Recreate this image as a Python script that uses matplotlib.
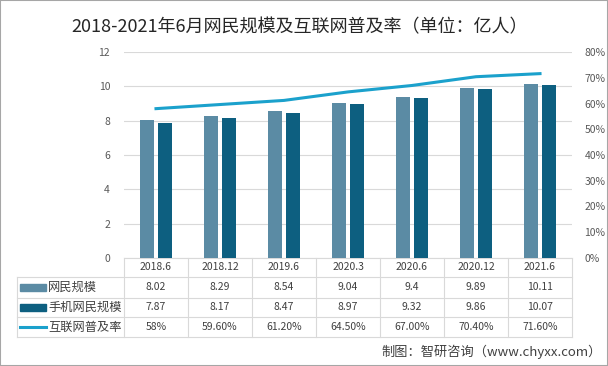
import matplotlib.pyplot as plt
import numpy as np
from matplotlib.patches import Rectangle
from matplotlib.lines import Line2D

plt.rcParams['font.family'] = ['Noto Sans CJK SC', 'DejaVu Sans']

categories = ['2018.6', '2018.12', '2019.6', '2020.3', '2020.6', '2020.12', '2021.6']
netizens = [8.02, 8.29, 8.54, 9.04, 9.4, 9.89, 10.11]
mobile = [7.87, 8.17, 8.47, 8.97, 9.32, 9.86, 10.07]
rate = [58.0, 59.6, 61.2, 64.5, 67.0, 70.4, 71.6]
netizens_text = ['8.02', '8.29', '8.54', '9.04', '9.4', '9.89', '10.11']
mobile_text = ['7.87', '8.17', '8.47', '8.97', '9.32', '9.86', '10.07']
rate_text = ['58%', '59.60%', '61.20%', '64.50%', '67.00%', '70.40%', '71.60%']
series_names = ['网民规模', '手机网民规模', '互联网普及率']

c_net = '#5b8ba4'
c_mob = '#0d5f80'
c_rate = '#1ba1cc'
c_grid = '#d9d9d9'
c_text = '#404040'

W, H = 608, 366
fig = plt.figure(figsize=(W / 100, H / 100), dpi=100)
ax = fig.add_axes([124 / W, 1 - 258 / H, 448 / W, 206 / H])

x = np.arange(len(categories))
ax.bar(x - 0.14, netizens, 0.22, color=c_net, zorder=3)
ax.bar(x + 0.14, mobile, 0.22, color=c_mob, zorder=3)
ax.set_xlim(-0.5, len(categories) - 0.5)
ax.set_ylim(0, 12)
ax.set_yticks(range(0, 13, 2))
ax.grid(axis='y', color=c_grid, lw=0.8)
ax.set_axisbelow(True)
for s in ['top', 'right', 'left']:
    ax.spines[s].set_visible(False)
ax.spines['bottom'].set_color(c_grid)
ax.set_xticks([])
ax.tick_params(axis='y', length=0, pad=10, labelsize=7.5, labelcolor='#595959')

ax2 = ax.twinx()
ax2.plot(x, rate, color=c_rate, lw=2.2)
ax2.set_ylim(0, 80)
ax2.set_yticks(range(0, 81, 10))
ax2.set_yticklabels([f'{v}%' for v in range(0, 81, 10)])
for s in ax2.spines.values():
    s.set_visible(False)
ax2.tick_params(axis='y', length=0, pad=9, labelsize=7.5, labelcolor='#595959')

# data table under the chart
tr = ax.transAxes
rows_y = [0, -19 / 206, -40 / 206, -59 / 206, -79 / 206]
left = (17 - 124) / 448
n = len(categories)

def hline(y, x0, x1):
    fig.add_artist(Line2D([x0, x1], [y, y], transform=tr, color=c_grid, lw=0.8))

def vline(xx, y0, y1):
    fig.add_artist(Line2D([xx, xx], [y0, y1], transform=tr, color=c_grid, lw=0.8))

for y in rows_y[1:]:
    hline(y, left, 1)
vline(left, rows_y[1], rows_y[-1])
for i in range(n + 1):
    vline(i / n, 0, rows_y[-1])

row_texts = [categories, netizens_text, mobile_text, rate_text]
for r, texts in enumerate(row_texts):
    yc = (rows_y[r] + rows_y[r + 1]) / 2
    for i, t in enumerate(texts):
        ax.text((i + 0.5) / n, yc, t, transform=tr, ha='center', va='center',
                fontsize=7.5, color=c_text)

key_x0, key_x1 = (20 - 124) / 448, (46 - 124) / 448
label_x = (48 - 124) / 448
for r, name in enumerate(series_names):
    yc = (rows_y[r + 1] + rows_y[r + 2]) / 2
    if r < 2:
        fig.add_artist(Rectangle((key_x0, yc - 0.016), key_x1 - key_x0, 0.032,
                                 transform=tr, color=[c_net, c_mob][r]))
    else:
        fig.add_artist(Line2D([key_x0, key_x1], [yc, yc], transform=tr,
                              color=c_rate, lw=2.2))
    ax.text(label_x, yc, name, transform=tr, ha='left', va='center',
            fontsize=8.8, color=c_text)

fig.text(300 / W, 1 - 27 / H, '2018-2021年6月网民规模及互联网普及率（单位：亿人）',
         ha='center', va='center', fontsize=13, color='#262626')
fig.text(602 / W, 1 - 352 / H, '制图：智研咨询（www.chyxx.com）',
         ha='right', va='center', fontsize=9.5, color=c_text)

fig.add_artist(Rectangle((0, 0), 1, 1, transform=fig.transFigure, fill=False,
                         ec='#a6a6a6', lw=1.5))

fig.savefig('out.png', dpi=100)
